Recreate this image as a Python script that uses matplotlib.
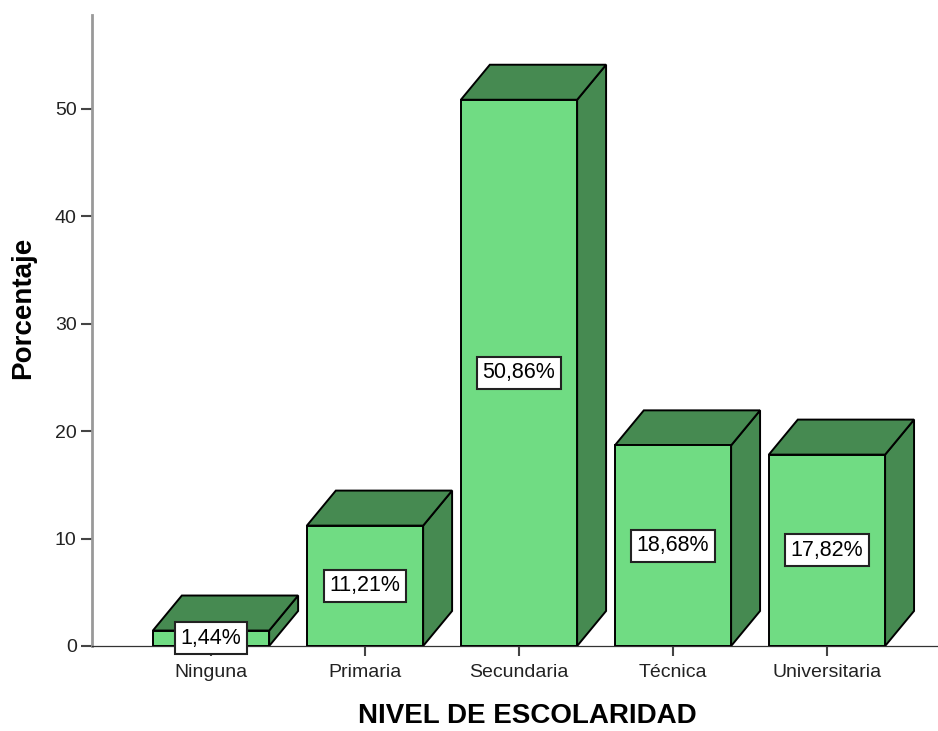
import matplotlib.pyplot as plt
from matplotlib.patches import Polygon, Rectangle

plt.rcParams['font.family'] = ['Liberation Sans', 'DejaVu Sans']

# datos
categorias = ['Ninguna', 'Primaria', 'Secundaria', 'Técnica', 'Universitaria']
porcentajes = [1.44, 11.21, 50.86, 18.68, 17.82]
etiquetas = ['1,44%', '11,21%', '50,86%', '18,68%', '17,82%']

COLOR_FRENTE = '#70DC83'
COLOR_LADO = '#468A51'
ANCHO = 0.755
DX = 0.188   # profundidad 3D en x (unidades de categoria)
DY = 3.26    # profundidad 3D en y (unidades de porcentaje)

fig = plt.figure(figsize=(9.38, 7.31), dpi=100)
ax = fig.add_axes([92 / 938, 85 / 731, 846 / 938, 631 / 731])

for i, h in enumerate(porcentajes):
    x0 = i - ANCHO / 2
    x1 = i + ANCHO / 2
    # cara lateral
    ax.add_patch(Polygon([(x1, 0), (x1 + DX, DY), (x1 + DX, h + DY), (x1, h)],
                         closed=True, facecolor=COLOR_LADO, edgecolor='black',
                         linewidth=1.4, zorder=3))
    # cara superior
    ax.add_patch(Polygon([(x0, h), (x1, h), (x1 + DX, h + DY), (x0 + DX, h + DY)],
                         closed=True, facecolor=COLOR_LADO, edgecolor='black',
                         linewidth=1.4, zorder=3))
    # cara frontal
    ax.add_patch(Rectangle((x0, 0), ANCHO, h, facecolor=COLOR_FRENTE,
                           edgecolor='black', linewidth=1.4, zorder=4))
    ax.text(i, h / 2, etiquetas[i], ha='center', va='center', fontsize=15.5,
            zorder=6,
            bbox=dict(boxstyle='square,pad=0.25', facecolor='white',
                      edgecolor='#222222', linewidth=1.5))

ax.set_xlim(-0.773, 4.721)
ax.set_ylim(0, 58.75)

ax.set_xticks(range(len(categorias)))
ax.set_xticklabels(categorias, fontsize=14)
ax.set_yticks([0, 10, 20, 30, 40, 50])
ax.tick_params(axis='y', length=8, width=1.5, color='#444444', pad=3,
               labelsize=14, labelcolor='#222222')
ax.tick_params(axis='x', length=7, width=1.5, color='#444444', pad=6,
               labelcolor='#222222')

for lado in ['top', 'right']:
    ax.spines[lado].set_visible(False)
ax.spines['left'].set_color('#999999')
ax.spines['left'].set_linewidth(2)
ax.spines['bottom'].set_color('#333333')
ax.spines['bottom'].set_linewidth(0.9)

fig.text(23 / 938, 1 - 308 / 731, 'Porcentaje', rotation=90, ha='center',
         va='center', fontsize=20, fontweight='bold')
fig.text(527 / 938, 1 - 716 / 731, 'NIVEL DE ESCOLARIDAD', ha='center',
         va='center', fontsize=20, fontweight='bold')

fig.savefig('out.png', dpi=100)
